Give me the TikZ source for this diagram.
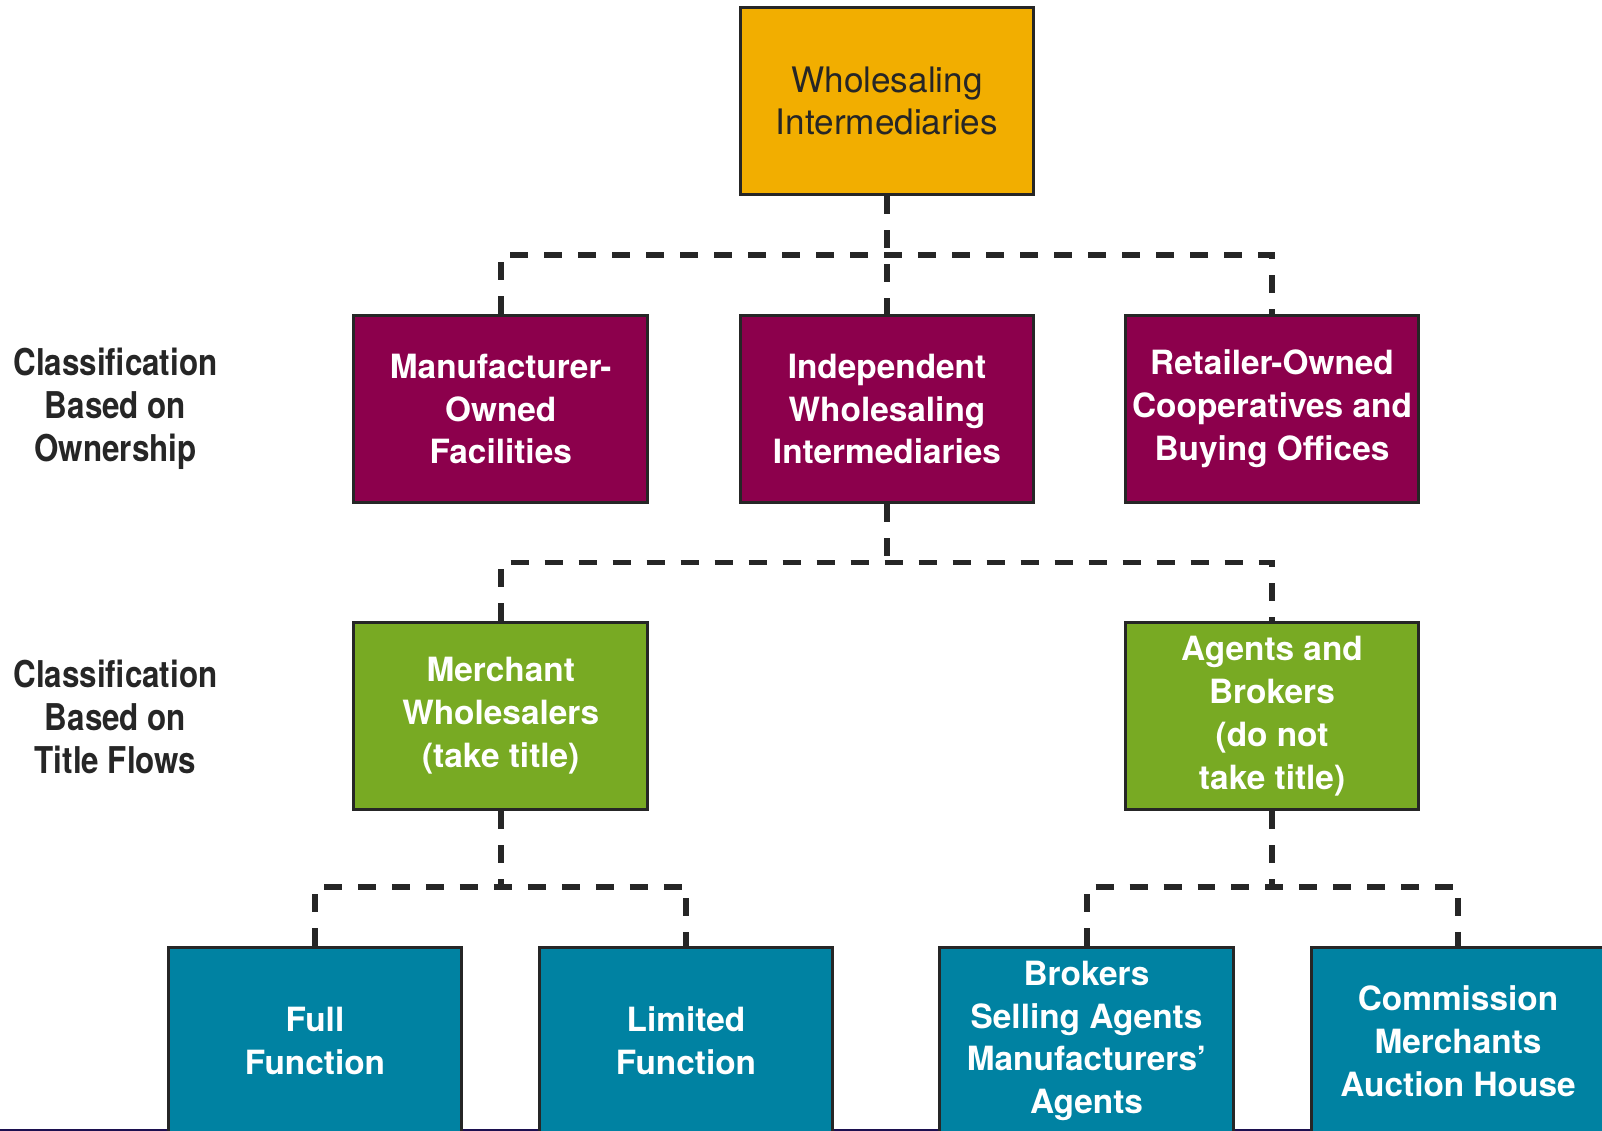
\documentclass[tikz,border=0pt]{standalone}
\usepackage{fontspec}
\setmainfont{TeX Gyre Heros}
\newfontfamily\condfont[FakeStretch=0.85]{TeX Gyre Heros}
\usepackage{xcolor}
\usepackage{tikz}
\usetikzlibrary{calc}
\definecolor{boxorange}{RGB}{242,174,0}
\definecolor{boxplum}{RGB}{140,0,76}
\definecolor{boxgreen}{RGB}{120,170,35}
\definecolor{boxteal}{RGB}{0,130,162}
\definecolor{rulenavy}{RGB}{28,16,80}

\begin{document}
\begin{tikzpicture}[x=0.02cm,y=-0.02cm,
		box/.style={rectangle,draw=black!85,line width=1.7pt,minimum width=5.88cm,minimum height=3.76cm,inner sep=0pt,align=center,text=white,font=\fontsize{19}{24.4}\selectfont\bfseries},
		link/.style={draw=black!85,line width=3.4pt,dash pattern=on 0.36cm off 0.32cm},
		sidelabel/.style={align=center,text=black!85,font=\condfont\fontsize{21}{24.4}\selectfont\bfseries}]
		\useasboundingbox (0,0) rectangle (1602,1131);
		\fill [white] (0,0) rectangle (1602,1131);
		\clip (0,0) rectangle (1602,1131);
		\draw [rulenavy,line width=1.2pt] (0,1130) -- (1602,1130);

		%elements
		\node [box,fill=boxorange,text=black!85,font=\fontsize{20}{24.4}\selectfont] at (887,101) (top) {Wholesaling\\Intermediaries};

		\node [box,fill=boxplum] at ($(top)+(0,308)$) (indep) {Independent\\Wholesaling\\Intermediaries};
		\node [box,fill=boxplum] at ($(indep)+(-386.3,0)$) (maker) {Manufacturer-\\Owned\\Facilities};
		\node [box,fill=boxplum] at ($(indep)+(385,0)$) (retail) {Retailer-Owned\\Cooperatives and\\Buying Offices};

		\node [box,fill=boxgreen] at ($(maker)+(0,307)$) (merchant) {Merchant\\Wholesalers\\(take title)};
		\node [box,fill=boxgreen] at ($(retail)+(0,307)$) (agents) {Agents and\\Brokers\\(do not\\take title)};

		\node [box,fill=boxteal] at ($(merchant)+(-185.7,325)$) (full) {Full\\Function};
		\node [box,fill=boxteal] at ($(merchant)+(185.3,325)$) (limited) {Limited\\Function};
		\node [box,fill=boxteal] at ($(agents)+(-185.5,325)$) (brokers) {Brokers\\Selling Agents\\Manufacturers'\\Agents};
		\node [box,fill=boxteal] at ($(agents)+(186,325)$) (commission) {Commission\\Merchants\\Auction House};

		%side labels
		\node [sidelabel] at (115.5,409) (byowner) {Classification\\Based on\\Ownership};
		\node [sidelabel] at (115.5,717) (bytitle) {Classification\\Based on\\Title Flows};

		%links
		\coordinate (j1) at ($(top.south)!0.5!(indep.north)$);
		\coordinate (j2) at ($(indep.south)!0.5!(merchant.north)$);
		\coordinate (j3) at ($(merchant.south)!0.56!(full.north)$);
		\draw [link] (top.south) -- (indep.north);
		\draw [link] (maker.north) -- (maker.north |- j1) -- (retail.north |- j1) -- (retail.north);
		\draw [link] (indep.south) -- (indep.south |- j2);
		\draw [link] (merchant.north) -- (merchant.north |- j2) -- (agents.north |- j2) -- (agents.north);
		\draw [link] (merchant.south) -- (merchant.south |- j3);
		\draw [link] (full.north) -- (full.north |- j3) -- (limited.north |- j3) -- (limited.north);
		\draw [link] (agents.south) -- (agents.south |- j3);
		\draw [link] (brokers.north) -- (brokers.north |- j3) -- (commission.north |- j3) -- (commission.north);
\end{tikzpicture}
\end{document}
